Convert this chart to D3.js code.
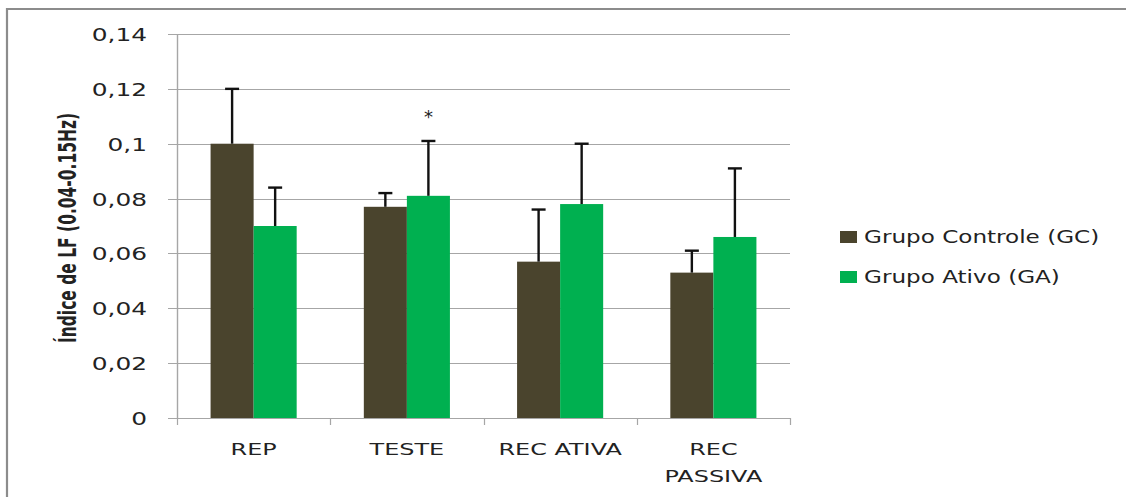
<!DOCTYPE html>
<html>
<head>
<meta charset="utf-8">
<script src="https://cdn.jsdelivr.net/npm/d3@7"></script>
<style>
  html, body { margin: 0; padding: 0; background: #fff; }
  svg { display: block; }
  text { font-family: "DejaVu Sans", sans-serif; fill: #222; }
</style>
</head>
<body>
<svg id="chart" width="1126" height="497"></svg>
<script>
// Categories, series and tick values
const categories = ["REP", "TESTE", "REC ATIVA", "REC PASSIVA"];
const seriesNames = ["Grupo Controle (GC)", "Grupo Ativo (GA)"];
const seriesColors = ["#4a442d", "#00b050"];
const gcValues = [0.100, 0.077, 0.057, 0.053];
const gaValues = [0.070, 0.081, 0.078, 0.066];
const gcErrors = [0.020, 0.005, 0.019, 0.008];
const gaErrors = [0.014, 0.020, 0.022, 0.025];
const yTicks = [0, 0.02, 0.04, 0.06, 0.08, 0.1, 0.12, 0.14];
const yTickLabels = ["0", "0,02", "0,04", "0,06", "0,08", "0,1", "0,12", "0,14"];
const significant = [null, 1, null, null]; // series index marked with *
const yTitle = "Índice de LF (0.04-0.15Hz)";

const svg = d3.select("#chart");

const plot = { left: 177, right: 790, top: 34, bottom: 418 };

// outer frame
svg.append("path")
  .attr("d", `M7,497 L7,9 L1126,9`)
  .attr("fill", "none").attr("stroke", "#8c8c8c").attr("stroke-width", 2.2);

const x0 = d3.scaleBand().domain(categories).range([plot.left, plot.right]).paddingInner(0).paddingOuter(0);
const x1 = d3.scaleBand().domain([0, 1]).range([0, x0.bandwidth()]).paddingInner(0).paddingOuter(0.78);
const y = d3.scaleLinear().domain([0, 0.14]).range([plot.bottom, plot.top]);

// gridlines
svg.append("g").selectAll("line").data(yTicks).join("line")
  .attr("x1", plot.left - 9).attr("x2", plot.right)
  .attr("y1", d => Math.round(y(d)) + 0.5).attr("y2", d => Math.round(y(d)) + 0.5)
  .attr("stroke", "#a6a6a6").attr("stroke-width", 1.2);

// y axis line
svg.append("line")
  .attr("x1", plot.left + 0.5).attr("x2", plot.left + 0.5)
  .attr("y1", plot.top).attr("y2", plot.bottom + 1)
  .attr("stroke", "#a6a6a6").attr("stroke-width", 1.4);

// category boundary ticks on x axis
const bounds = categories.map(c => x0(c)).concat([plot.right]);
svg.append("g").selectAll("line").data(bounds).join("line")
  .attr("x1", d => Math.round(d) + 0.5).attr("x2", d => Math.round(d) + 0.5)
  .attr("y1", plot.bottom).attr("y2", plot.bottom + 7)
  .attr("stroke", "#a6a6a6").attr("stroke-width", 1.2);

// y tick labels
svg.append("g").selectAll("text").data(yTicks).join("text")
  .attr("transform", d => `translate(147,${y(d) + 7}) scale(1.38,1)`)
  .attr("text-anchor", "end")
  .attr("font-size", 18)
  .attr("fill", "#1a1a1a")
  .text((d, i) => yTickLabels[i]);

// bars
const rows = categories.map((c, i) => ({
  cat: c,
  vals: [gcValues[i], gaValues[i]],
  errs: [gcErrors[i], gaErrors[i]]
}));

const groups = svg.append("g").selectAll("g").data(rows).join("g")
  .attr("transform", d => `translate(${x0(d.cat)},0)`);

groups.selectAll("rect").data(d => d.vals.map((v, s) => ({ v, s }))).join("rect")
  .attr("x", d => x1(d.s))
  .attr("width", x1.bandwidth())
  .attr("y", d => y(d.v))
  .attr("height", d => y(0) - y(d.v))
  .attr("fill", d => seriesColors[d.s]);

// upward error bars
const errs = groups.selectAll("g.err").data(d => d.vals.map((v, s) => ({ v, e: d.errs[s], s }))).join("g")
  .attr("class", "err");
errs.append("line")
  .attr("x1", d => x1(d.s) + x1.bandwidth() / 2).attr("x2", d => x1(d.s) + x1.bandwidth() / 2)
  .attr("y1", d => y(d.v)).attr("y2", d => y(d.v + d.e))
  .attr("stroke", "#111").attr("stroke-width", 2.4);
errs.append("line")
  .attr("x1", d => x1(d.s) + x1.bandwidth() / 2 - 7).attr("x2", d => x1(d.s) + x1.bandwidth() / 2 + 7)
  .attr("y1", d => y(d.v + d.e)).attr("y2", d => y(d.v + d.e))
  .attr("stroke", "#111").attr("stroke-width", 2.4);

// significance marker
groups.filter((d, i) => significant[i] !== null).append("text")
  .attr("x", d => { const s = significant[categories.indexOf(d.cat)]; return x1(s) + x1.bandwidth() / 2; })
  .attr("y", d => { const i = categories.indexOf(d.cat); const s = significant[i]; return y(d.vals[s] + d.errs[s]) - 18; })
  .attr("text-anchor", "middle")
  .attr("font-size", 18)
  .attr("fill", "#333")
  .text("*");

// category labels (wrapped)
const catLabels = svg.append("g").selectAll("g").data(categories).join("g")
  .attr("transform", d => `translate(${x0(d) + x0.bandwidth() / 2},455) scale(1.45,1)`);
catLabels.each(function (d) {
  const lines = d === "REC PASSIVA" ? ["REC", "PASSIVA"] : [d];
  d3.select(this).selectAll("text").data(lines).join("text")
    .attr("x", 0).attr("y", (l, i) => i * 27)
    .attr("text-anchor", "middle")
    .attr("font-size", 16.5)
    .attr("fill", "#1a1a1a")
    .text(l => l);
});

// y axis title
svg.append("text")
  .attr("transform", `translate(76,228) scale(1.6,1) rotate(-90)`)
  .attr("text-anchor", "middle")
  .attr("font-family", "'Liberation Sans Narrow', 'Liberation Sans', sans-serif")
  .attr("font-weight", "bold")
  .attr("font-size", 15.5)
  .attr("fill", "#111")
  .text(yTitle);

// legend
const legend = svg.append("g").selectAll("g").data(seriesNames).join("g")
  .attr("transform", (d, i) => `translate(840,${231 + i * 40})`);
legend.append("rect")
  .attr("width", 17).attr("height", 12)
  .attr("fill", (d, i) => seriesColors[i]);
legend.append("text")
  .attr("transform", `translate(24,12) scale(1.32,1)`)
  .attr("font-size", 17.5)
  .attr("fill", "#111")
  .text(d => d);
</script>
</body>
</html>
